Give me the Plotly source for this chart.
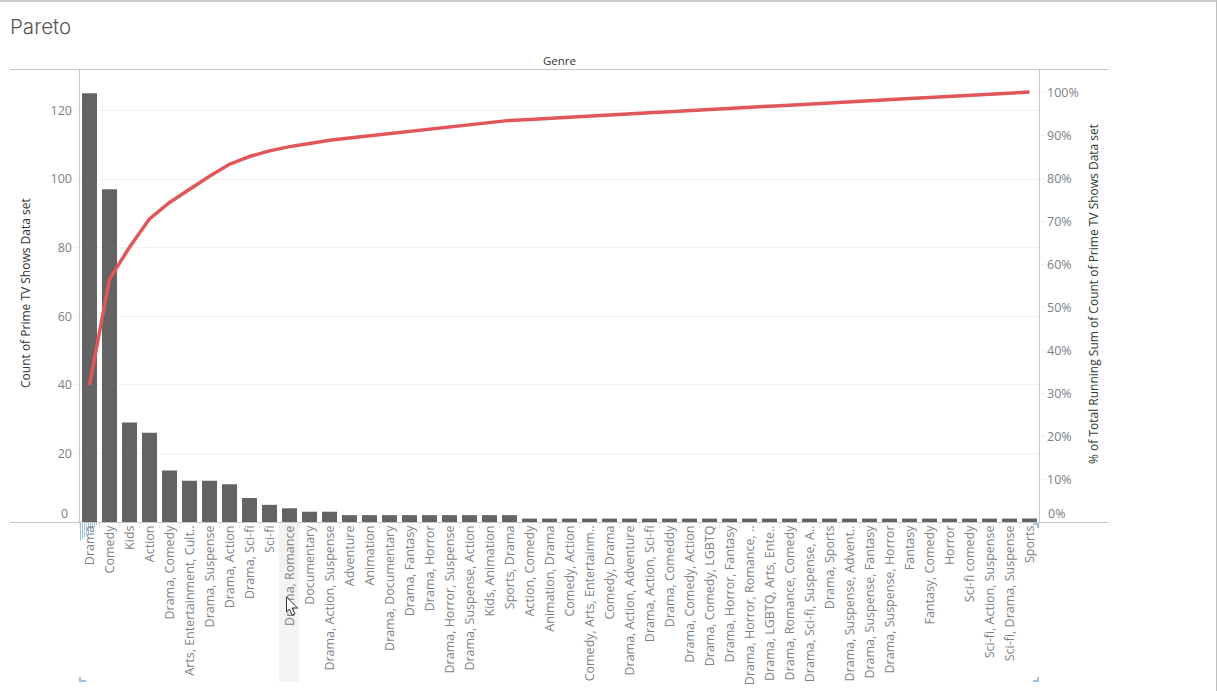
import plotly.graph_objects as go

W, H = 1217, 691

genres = ["Drama", "Comedy", "Kids", "Action", "Drama, Comedy", "Arts, Entertainment, Cult..",
          "Drama, Suspense", "Drama, Action", "Drama, Sci-fi", "Sci-fi", "Drama, Romance",
          "Documentary", "Drama, Action, Suspense", "Adventure", "Animation", "Drama, Documentary",
          "Drama, Fantasy", "Drama, Horror", "Drama, Horror, Suspense", "Drama, Suspense, Action",
          "Kids, Animation", "Sports, Drama", "Action, Comedy", "Animation, Drama", "Comedy, Action",
          "Comedy, Arts, Entertainm..", "Comedy, Drama", "Drama, Action, Adventure",
          "Drama, Action, Sci-fi", "Drama, Comeddy", "Drama, Comedy, Action", "Drama, Comedy, LGBTQ",
          "Drama, Horror, Fantasy", "Drama, Horror, Romance, ..", "Drama, LGBTQ, Arts, Ente..",
          "Drama, Romance, Comedy", "Drama, Sci-fi, Suspense, A..", "Drama, Sports",
          "Drama, Suspense, Advent..", "Drama, Suspense, Fantasy", "Drama, Suspense, Horror",
          "Fantasy", "Fantasy, Comedy", "Horror", "Sci-fi comedy", "Sci-fi, Action, Suspense",
          "Sci-fi, Drama, Suspense", "Sports"]
counts = [125, 97, 29, 26, 15, 12, 12, 11, 7, 5, 4, 3, 3, 2, 2, 2, 2, 2, 2, 2, 2, 2,
          1, 1, 1, 1, 1, 1, 1, 1, 1, 1, 1, 1, 1, 1, 1, 1, 1, 1, 1, 1, 1, 1, 1, 1, 1, 1]
running_pct = [31.8, 56.5, 63.9, 70.5, 74.3, 77.4, 80.4, 83.2, 85.0, 86.3, 87.3, 88.0, 88.8,
               89.3, 89.8, 90.3, 90.8, 91.3, 91.9, 92.4, 92.9, 93.4,
               93.6, 93.9, 94.2, 94.4, 94.7, 94.9, 95.2, 95.4, 95.7, 95.9,
               96.2, 96.4, 96.7, 96.9, 97.2, 97.5, 97.7, 98.0, 98.2, 98.5,
               98.7, 99.0, 99.2, 99.5, 99.7, 100.0]
left_ticks = [20, 40, 60, 80, 100, 120]
right_ticks = [10, 20, 30, 40, 50, 60, 70, 80, 90, 100]
right_labels = ["10%", "20%", "30%", "40%", "50%", "60%", "70%", "80%", "90%", "100%"]

L, R, T, B = 79.5, 1039.5, 70, 522
FONT = "Open Sans"
GREY = "#c8c8c8"
TEXT = "#7d7f85"


def px(x):
    return x / W


def py(y):
    return 1 - y / H


def pline(x0, y0, x1, y1, color=GREY, width=1, layer="above"):
    return dict(type="line", xref="paper", yref="paper", x0=px(x0), y0=py(y0), x1=px(x1), y1=py(y1),
                line=dict(color=color, width=width), layer=layer)


def ppath(points, fill=None, color=None, width=1, layer="above"):
    d = "M " + " L ".join(f"{px(a):.5f},{py(b):.5f}" for a, b in points)
    if fill:
        d += " Z"
    return dict(type="path", xref="paper", yref="paper", path=d, fillcolor=fill or "rgba(0,0,0,0)",
                line=dict(color=color or "rgba(0,0,0,0)", width=width), layer=layer)


fig = go.Figure()
fig.add_bar(x=genres, y=counts, marker=dict(color="#636363", line=dict(width=0)), yaxis="y", showlegend=False)
fig.add_scatter(x=genres, y=running_pct, mode="lines", line=dict(color="#e15759", width=3.5),
                yaxis="y2", showlegend=False)

shapes = [
    pline(0, 1, W, 1, "#bdbdbd", 1.5),
    pline(W - 0.5, 0, W - 0.5, H, "#bdbdbd", 1),
    pline(10, 69.5, 1109, 69.5),
    pline(10, 522.5, 1109, 522.5),
    pline(79.5, 70, 79.5, 522),
    pline(1039.5, 70, 1039.5, 522),
    dict(type="rect", xref="paper", yref="paper", x0=px(279), x1=px(299), y0=py(523), y1=py(682),
         fillcolor="#f3f3f3", line=dict(width=0), layer="below"),
]
# hatched selection marker under the first label
for x in range(80, 98, 2):
    shapes.append(pline(x + 0.5, 523, x + 0.5, 541 - (x - 80), "#9cc3e4", 1, "below"))
# corner handles
HANDLE = "#a3c2dc"
shapes += [
    ppath([(80, 677), (80, 681), (86, 681)], color=HANDLE, width=2),
    ppath([(1033, 524), (1038, 524), (1038, 528)], color=HANDLE, width=2),
    ppath([(1033, 681), (1038, 681), (1038, 677)], color=HANDLE, width=2),
]
# mouse pointer
shapes.append(ppath([(286.5, 597), (297.5, 608), (292, 608), (295, 614), (292, 615), (289.5, 609), (286.5, 612)],
                    fill="#ffffff", color="#333333", width=1))

annotations = [
    dict(text="Genre", xref="paper", yref="paper", x=px(559.5), y=py(60), showarrow=False,
         font=dict(family=FONT, size=11.5, color="#333333", weight=500), xanchor="center", yanchor="middle"),
    dict(text="Count of Prime TV Shows Data set", xref="paper", yref="paper", x=px(25), y=py(293),
         showarrow=False, textangle=-90, font=dict(family=FONT, size=12, color="#333333"),
         xanchor="center", yanchor="middle"),
    dict(text="% of Total Running Sum of Count of Prime TV Shows Data set", xref="paper", yref="paper",
         x=px(1094), y=py(294), showarrow=False, textangle=-90,
         font=dict(family=FONT, size=12, color="#2f3a2f"), xanchor="center", yanchor="middle"),
    dict(text="0", xref="x domain", yref="y", x=0, y=0, xshift=-10, yshift=9, showarrow=False,
         font=dict(family=FONT, size=12.5, color=TEXT), xanchor="right", yanchor="middle"),
    dict(text="0%", xref="x domain", yref="y", x=1, y=0, xshift=6, yshift=9, showarrow=False,
         font=dict(family=FONT, size=12.5, color=TEXT), xanchor="left", yanchor="middle"),
]

tick_font = dict(family=FONT, size=12.5, color=TEXT)
fig.update_layout(
    width=W, height=H, autosize=False, margin=dict(l=0, r=0, t=0, b=0, pad=0),
    paper_bgcolor="#ffffff", plot_bgcolor="#ffffff", bargap=0.25, showlegend=False,
    title=dict(text="Pareto", x=px(10), y=py(27), xref="paper", yref="paper", xanchor="left", yanchor="middle",
               font=dict(family="Inter", size=20.5, color="#5a5552", weight=300)),
    xaxis=dict(domain=[px(L), px(R)], type="category", categoryorder="array", categoryarray=genres,
               range=[-0.5, 47.5], tickangle=-90, tickfont=tick_font, tickson="boundaries",
               ticks="outside", ticklen=5, tickcolor="#eeeeee", showgrid=False, showline=False,
               zeroline=False, tickmode="array", tickvals=genres, ticktext=genres, automargin=False),
    yaxis=dict(domain=[py(B), py(T)], range=[0, (B - T) / 3.43], tickmode="array", tickvals=left_ticks,
               tickfont=tick_font, ticks="outside", ticklen=4, tickcolor="#eeeeee", gridcolor="#f2f2f2",
               gridwidth=1, showline=False, zeroline=False, automargin=False),
    yaxis2=dict(domain=[py(B), py(T)], range=[0, (B - T) / 4.3], overlaying="y", side="right",
                tickmode="array", tickvals=right_ticks, ticktext=right_labels, tickfont=tick_font, ticks="outside",
                ticklen=4, tickcolor="#eeeeee", showgrid=False, showline=False, zeroline=False,
                ticklabelshift=1, automargin=False, anchor="x"),
    shapes=shapes, annotations=annotations,
)

fig.write_html("out.html", config=dict(displayModeBar=False),
               post_script="document.body.style.margin='0';document.body.style.overflow='hidden';")
